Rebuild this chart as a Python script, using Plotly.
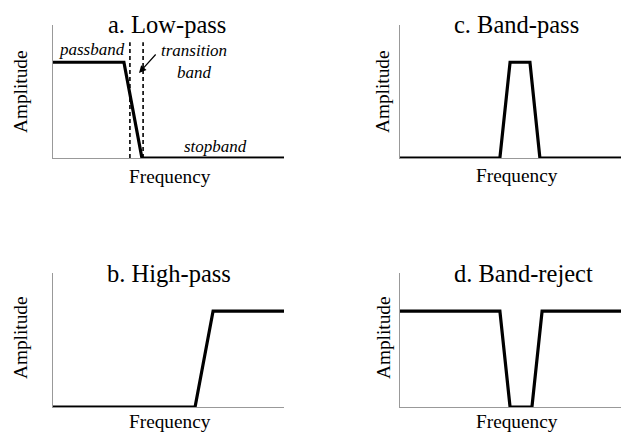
import plotly.graph_objects as go

# ---- data (frequency in % of axis span, amplitude 0..1) ----
lowpass_f = [0, 30.7, 38.5, 100]
lowpass_a = [0.72, 0.72, 0, 0]
transition_edges = [33.3, 39.0]
transition_top = 0.87

highpass_f = [0, 61.5, 69.3, 100]
highpass_a = [0, 0, 0.716, 0.716]

bandpass_f = [0, 45.2, 49.8, 58.8, 63.3, 100]
bandpass_a = [0, 0, 0.72, 0.72, 0, 0]

bandreject_f = [0, 45.2, 49.8, 59.7, 64.3, 100]
bandreject_a = [0.716, 0.716, 0, 0, 0.716, 0.716]

titles = ["a. Low-pass", "b. High-pass", "c. Band-pass", "d. Band-reject"]
x_label = "Frequency"
y_label = "Amplitude"

W, H = 621, 432
SERIF = "Liberation Serif"

def px_x(p):
    return p / W

def px_y(p):
    return 1 - p / H

# panel pixel boxes: (left, right, top, bottom)
boxes = {
    "a": (53, 284, 25, 158),
    "c": (400, 621, 25, 158),
    "b": (53, 284, 273, 407),
    "d": (400, 621, 273, 407),
}

fig = go.Figure()
series = {
    "a": (lowpass_f, lowpass_a),
    "c": (bandpass_f, bandpass_a),
    "b": (highpass_f, highpass_a),
    "d": (bandreject_f, bandreject_a),
}
order = ["a", "c", "b", "d"]
for i, key in enumerate(order, start=1):
    f, a = series[key]
    sfx = "" if i == 1 else str(i)
    fig.add_trace(go.Scatter(x=f, y=a, mode="lines",
                             line=dict(color="black", width=3.2),
                             xaxis="x" + sfx, yaxis="y" + sfx,
                             showlegend=False, hoverinfo="skip",
                             cliponaxis=False))
    l, r, t, b = boxes[key]
    axstyle = dict(showgrid=False, zeroline=False, showticklabels=False,
                   ticks="", showline=True, linecolor="#999999", linewidth=1,
                   fixedrange=True)
    fig.layout["xaxis" + sfx] = dict(domain=[px_x(l), px_x(r)], range=[0, 100],
                                     anchor="y" + sfx, **axstyle)
    fig.layout["yaxis" + sfx] = dict(domain=[px_y(b), px_y(t)], range=[0, 1],
                                     anchor="x" + sfx, **axstyle)

# transition band dashed lines in panel a
for xe in transition_edges:
    fig.add_trace(go.Scatter(x=[xe, xe], y=[0, transition_top], mode="lines",
                             line=dict(color="black", width=1.6, dash="4px,3px"),
                             xaxis="x", yaxis="y", showlegend=False,
                             hoverinfo="skip"))

annotations = []
title_pos = {"a": (167, 25), "c": (516, 25), "b": (169, 273), "d": (523, 273)}
freq_pos = {"a": (170, 176), "c": (517, 175), "b": (170, 421), "d": (517, 421)}
amp_pos = {"a": (20, 92), "c": (382, 92), "b": (20, 338), "d": (383, 338)}
title_map = {"a": titles[0], "b": titles[1], "c": titles[2], "d": titles[3]}
for key in order:
    tx, ty = title_pos[key]
    annotations.append(dict(x=px_x(tx), y=px_y(ty), xref="paper", yref="paper",
                            text=title_map[key], showarrow=False,
                            xanchor="center", yanchor="middle",
                            font=dict(family=SERIF, size=24.5, color="black")))
    fx, fy = freq_pos[key]
    annotations.append(dict(x=px_x(fx), y=px_y(fy), xref="paper", yref="paper",
                            text=x_label, showarrow=False,
                            xanchor="center", yanchor="middle",
                            font=dict(family=SERIF, size=19.3, color="black")))
    ax_, ay_ = amp_pos[key]
    annotations.append(dict(x=px_x(ax_), y=px_y(ay_), xref="paper", yref="paper",
                            text=y_label, showarrow=False, textangle=-90,
                            xanchor="center", yanchor="middle",
                            font=dict(family=SERIF, size=19.3, color="black")))

ital = dict(family=SERIF, size=17, color="black")
annotations += [
    dict(x=px_x(92), y=px_y(50), xref="paper", yref="paper",
         text="<i>passband</i>", showarrow=False, xanchor="center",
         yanchor="middle", font=ital),
    dict(x=px_x(215), y=px_y(146), xref="paper", yref="paper",
         text="<i>stopband</i>", showarrow=False, xanchor="center",
         yanchor="middle", font=ital),
    dict(x=px_x(194), y=px_y(61), xref="paper", yref="paper",
         text="<i>transition</i><br><i>band</i>", showarrow=False,
         xanchor="center", yanchor="middle", align="center",
         font=ital),
    dict(x=px_x(139), y=px_y(73), ax=18, ay=-20,
         xref="paper", yref="paper", axref="pixel", ayref="pixel",
         text="", showarrow=True, arrowhead=2, arrowsize=1.2,
         arrowwidth=1.2, arrowcolor="black"),
]

fig.update_layout(width=W, height=H, margin=dict(l=0, r=0, t=0, b=0),
                  paper_bgcolor="white", plot_bgcolor="white",
                  annotations=annotations, showlegend=False)

fig.write_html("out.html", config={"displayModeBar": False},
               post_script="document.body.style.margin='0';"
                           "document.body.style.overflow='hidden';")
